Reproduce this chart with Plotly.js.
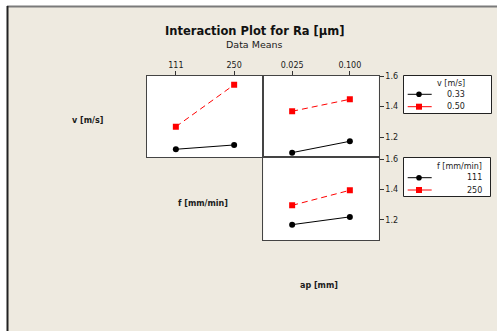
<!DOCTYPE html>
<html>
<head>
<meta charset="utf-8">
<script src="https://cdn.plot.ly/plotly-3.0.1.min.js"></script>
<style>html,body{margin:0;padding:0;background:#fff;}#chart{width:497px;height:331px;}</style>
</head>
<body>
<div id="chart"></div>
<script>
// ---- data ----
const fLevels = ['111', '250'];          // f [mm/min]
const apLevels = ['0.025', '0.100'];     // ap [mm]
const vLegend = ['0.33', '0.50'];        // v [m/s]
const fLegend = ['111', '250'];          // f [mm/min]
const yTicks = [1.2, 1.4, 1.6];

const raV033byF = [1.122, 1.150];
const raV050byF = [1.269, 1.543];
const raV033byAp = [1.100, 1.174];
const raV050byAp = [1.370, 1.448];
const raF111byAp = [1.169, 1.220];
const raF250byAp = [1.296, 1.395];

// ---- helpers: pixel -> paper ----
const W = 497, H = 331;
const px = x => x / W;
const py = y => 1 - y / H;

const FONT = 'DejaVu Sans, Verdana, sans-serif';
const TXT = '#1a1a1a';
const FRAME = '#444';
const BEIGE = '#eeeae0';

const blackStyle = {mode: 'lines+markers', line: {color: '#000', width: 1}, marker: {symbol: 'circle', size: 6, color: '#000'}, showlegend: false, hoverinfo: 'skip'};
const redStyle = {mode: 'lines+markers', line: {color: '#ff0000', width: 1, dash: '6px,4px'}, marker: {symbol: 'square', size: 6, color: '#ff0000'}, showlegend: false, hoverinfo: 'skip'};

const traces = [
  Object.assign({x: fLevels, y: raV033byF, xaxis: 'x', yaxis: 'y', name: vLegend[0]}, blackStyle),
  Object.assign({x: fLevels, y: raV050byF, xaxis: 'x', yaxis: 'y', name: vLegend[1]}, redStyle),
  Object.assign({x: apLevels, y: raV033byAp, xaxis: 'x2', yaxis: 'y2', name: vLegend[0]}, blackStyle),
  Object.assign({x: apLevels, y: raV050byAp, xaxis: 'x2', yaxis: 'y2', name: vLegend[1]}, redStyle),
  Object.assign({x: apLevels, y: raF111byAp, xaxis: 'x3', yaxis: 'y3', name: fLegend[0]}, blackStyle),
  Object.assign({x: apLevels, y: raF250byAp, xaxis: 'x3', yaxis: 'y3', name: fLegend[1]}, redStyle)
];

const xL = [px(146.7), px(263.3)];
const xR = [px(263.3), px(378.7)];
const yTop = [py(157.3), py(75.7)];
const yBot = [py(240), py(157.3)];

const frameAxis = {showline: true, mirror: true, linecolor: FRAME, linewidth: 1, showgrid: false, zeroline: false, fixedrange: true};
const topX = Object.assign({}, frameAxis, {type: 'category', range: [-0.5, 1.5], side: 'top', ticks: 'outside', ticklen: 4, tickwidth: 1, tickcolor: '#333', tickfont: {size: 8, color: TXT, family: FONT}});
const plainX = Object.assign({}, frameAxis, {type: 'category', range: [-0.5, 1.5], ticks: '', showticklabels: false});
const rightY = Object.assign({}, frameAxis, {side: 'right', tickvals: yTicks, ticktext: yTicks.map(v => v.toFixed(1)), ticks: 'outside', ticklen: 4, tickwidth: 1, tickcolor: '#333', tickfont: {size: 8, color: TXT, family: FONT}});
const plainY = Object.assign({}, frameAxis, {ticks: '', showticklabels: false});

const shapes = [
  // white strips at the top and left of the page, with the frame lines
  {type: 'rect', xref: 'paper', yref: 'paper', x0: 0, x1: 1, y0: py(6), y1: 1, fillcolor: '#fff', line: {width: 0}, layer: 'below'},
  {type: 'rect', xref: 'paper', yref: 'paper', x0: 0, x1: px(7), y0: 0, y1: 1, fillcolor: '#fff', line: {width: 0}, layer: 'below'},
  {type: 'line', xref: 'paper', yref: 'paper', x0: px(7), x1: 1, y0: py(6.5), y1: py(6.5), line: {color: '#7a7a7a', width: 2}},
  {type: 'line', xref: 'paper', yref: 'paper', x0: px(7.5), x1: px(7.5), y0: 0, y1: py(6), line: {color: '#222', width: 2}},
  // legend boxes
  {type: 'rect', xref: 'paper', yref: 'paper', x0: px(403.5), x1: px(491.5), y0: py(113.5), y1: py(75.5), fillcolor: '#fff', line: {color: '#222', width: 1}},
  {type: 'rect', xref: 'paper', yref: 'paper', x0: px(403.5), x1: px(490.5), y0: py(196.5), y1: py(157.5), fillcolor: '#fff', line: {color: '#222', width: 1}}
];

const annotations = [
  {text: '<b>Interaction Plot for Ra [µm]</b>', x: px(254.5), y: py(31), font: {size: 11.5, color: '#111', family: FONT}},
  {text: 'Data Means', x: px(254.5), y: py(44), font: {size: 9.5, color: TXT, family: FONT}},
  {text: '<b>v [m/s]</b>', x: px(87.3), y: py(120.7), font: {size: 8, color: TXT, family: FONT}},
  {text: '<b>f [mm/min]</b>', x: px(203), y: py(203.5), font: {size: 8, color: TXT, family: FONT}},
  {text: '<b>ap [mm]</b>', x: px(319.2), y: py(285.7), font: {size: 8, color: TXT, family: FONT}}
].map(a => Object.assign({xref: 'paper', yref: 'paper', showarrow: false, xanchor: 'center', yanchor: 'middle'}, a));

function addLegend(title, labels, rowsY, titleY, rightX) {
  annotations.push({text: title, xref: 'paper', yref: 'paper', x: px(rightX), y: py(titleY), xanchor: 'right', yanchor: 'middle', showarrow: false, font: {size: 8, color: TXT, family: FONT}});
  labels.forEach((lab, i) => {
    const yy = rowsY[i];
    const col = i === 0 ? '#000' : '#ff0000';
    shapes.push({type: 'line', xref: 'paper', yref: 'paper', x0: px(407.7), x1: px(431.7), y0: py(yy), y1: py(yy), line: {color: col, width: 1}});
    if (i === 0) {
      shapes.push({type: 'circle', xref: 'paper', yref: 'paper', x0: px(416.2), x1: px(421.8), y0: py(yy + 2.8), y1: py(yy - 2.8), fillcolor: col, line: {color: col, width: 0}});
    } else {
      shapes.push({type: 'rect', xref: 'paper', yref: 'paper', x0: px(416), x1: px(422), y0: py(yy + 3), y1: py(yy - 3), fillcolor: col, line: {color: col, width: 0}});
    }
    annotations.push({text: lab, xref: 'paper', yref: 'paper', x: px(rightX), y: py(yy), xanchor: 'right', yanchor: 'middle', showarrow: false, font: {size: 8, color: TXT, family: FONT}});
  });
}
addLegend('v [m/s]', vLegend, [94.3, 106.7], 83.3, 466.5);
addLegend('f [mm/min]', fLegend, [177.7, 190], 166.7, 483.5);

const layout = {
  width: W, height: H,
  margin: {l: 0, r: 0, t: 0, b: 0, pad: 0},
  paper_bgcolor: BEIGE,
  plot_bgcolor: '#fff',
  font: {family: FONT, color: TXT},
  showlegend: false,
  xaxis: Object.assign({}, topX, {domain: xL, anchor: 'y', categoryarray: fLevels, categoryorder: 'array'}),
  yaxis: Object.assign({}, plainY, {domain: yTop, anchor: 'x', range: [1.0695, 1.602]}),
  xaxis2: Object.assign({}, topX, {domain: xR, anchor: 'y2', categoryarray: apLevels, categoryorder: 'array'}),
  yaxis2: Object.assign({}, rightY, {domain: yTop, anchor: 'x2', range: [1.0695, 1.602]}),
  xaxis3: Object.assign({}, plainX, {domain: xR, anchor: 'y3', categoryarray: apLevels, categoryorder: 'array'}),
  yaxis3: Object.assign({}, rightY, {domain: yBot, anchor: 'x3', range: [1.068, 1.612]}),
  shapes: shapes,
  annotations: annotations
};

Plotly.newPlot('chart', traces, layout, {staticPlot: true, displayModeBar: false});
</script>
</body>
</html>
